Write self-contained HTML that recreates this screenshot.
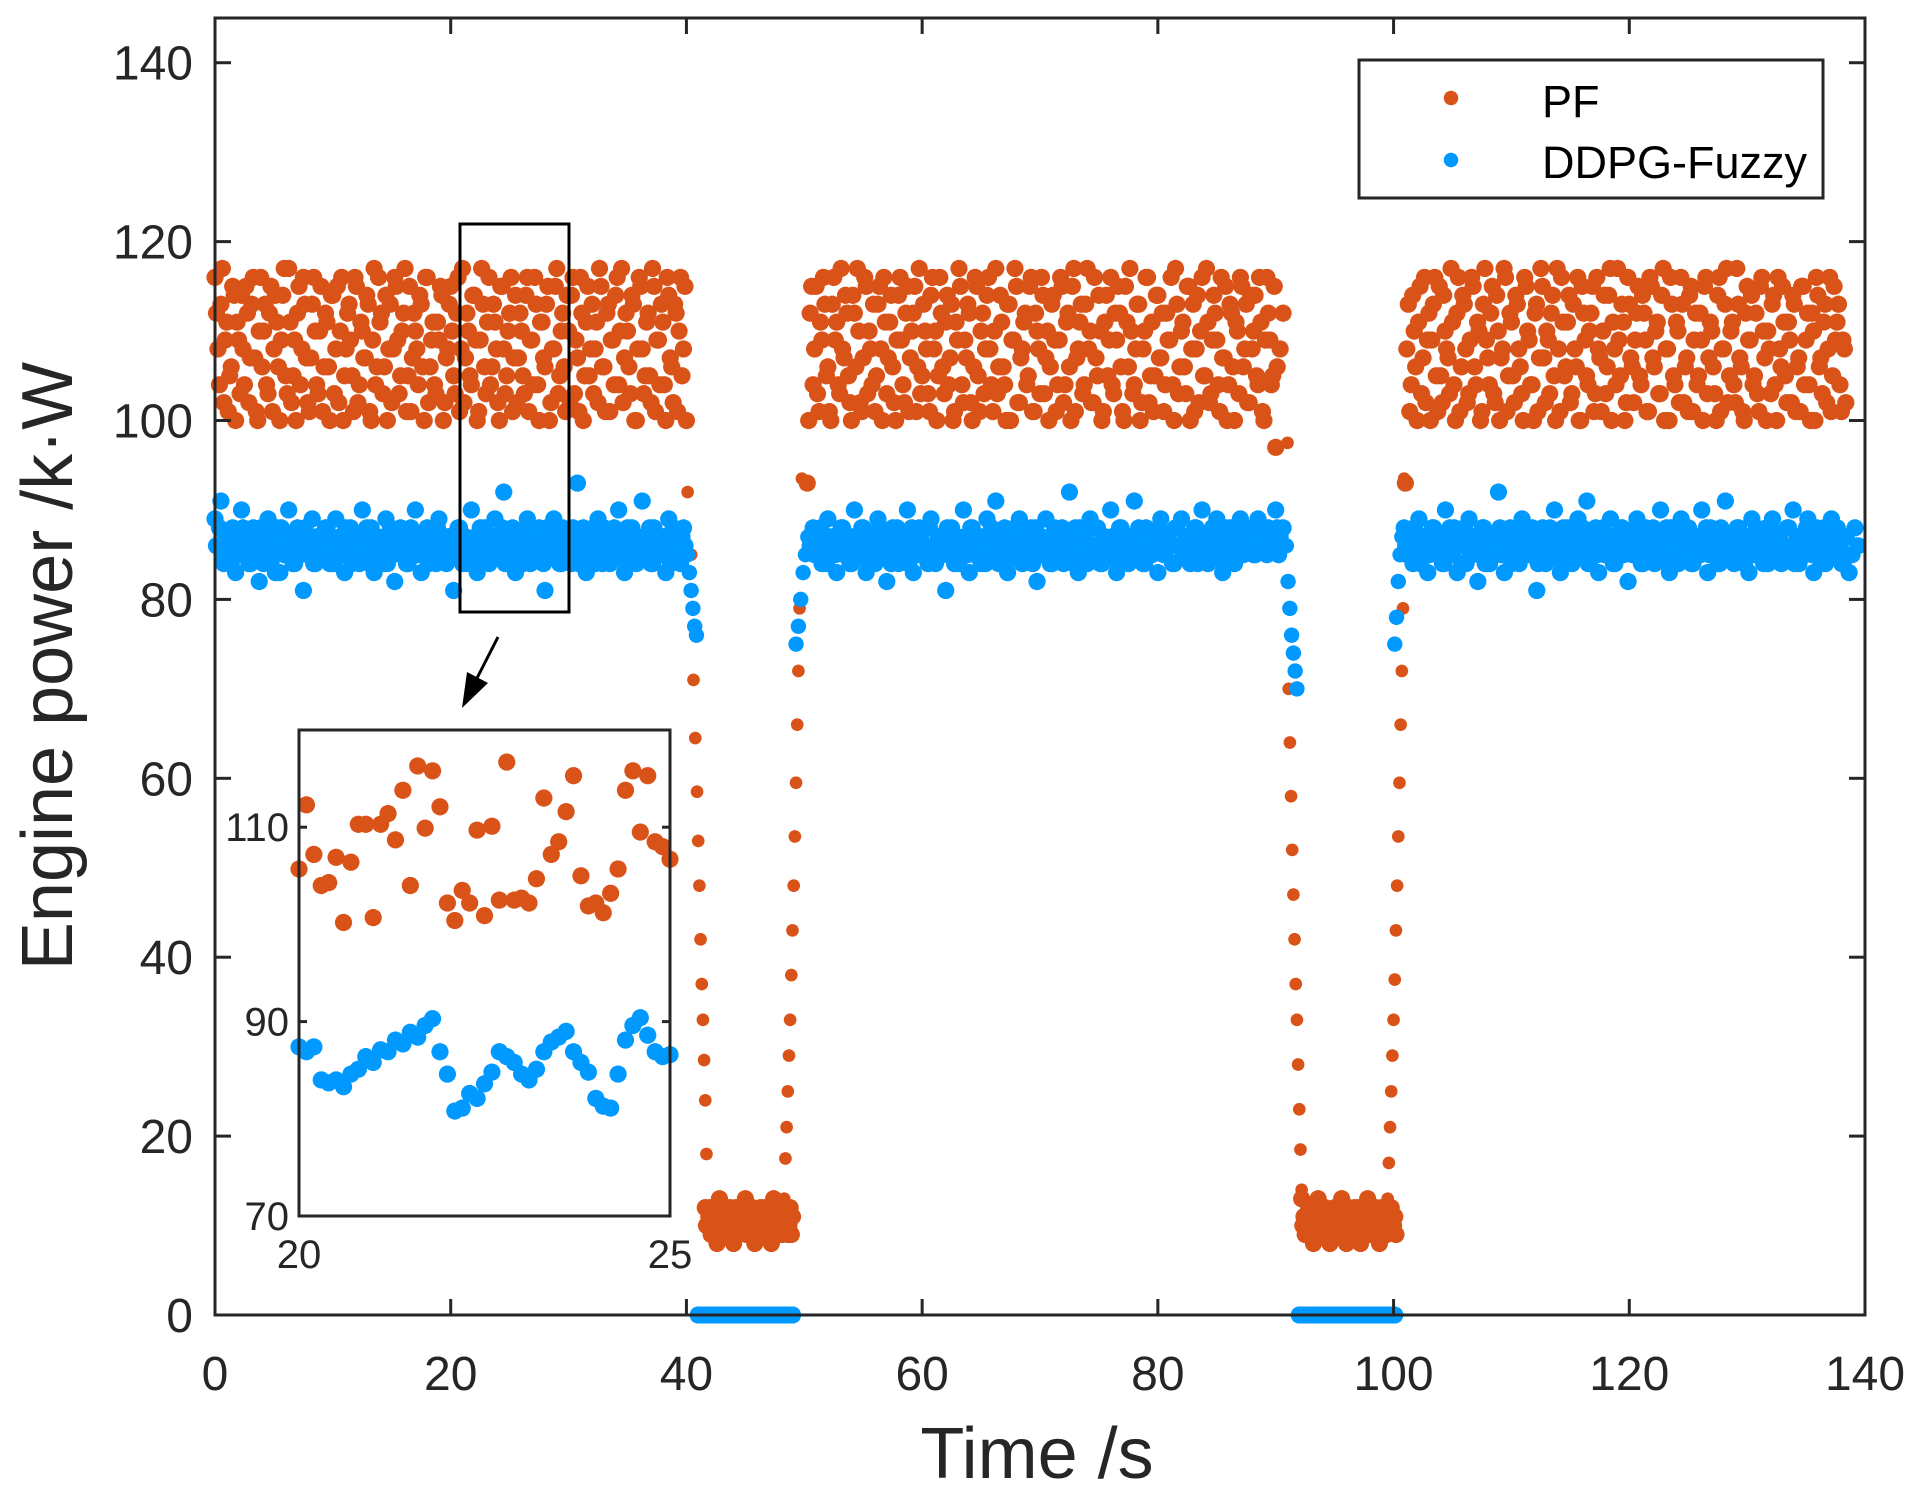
<!DOCTYPE html>
<html><head><meta charset="utf-8">
<style>
html,body{margin:0;padding:0;background:#fff;}
svg{display:block;font-family:"Liberation Sans",Arial,sans-serif;}
</style></head>
<body>
<svg id="chart" width="1915" height="1495" viewBox="0 0 1915 1495" xmlns="http://www.w3.org/2000/svg">
<defs>
<symbol id="ast" viewBox="-10 -10 20 20" overflow="visible">
<path d="M0,-9V9M-9,0H9M-6.4,-6.4L6.4,6.4M-6.4,6.4L6.4,-6.4M-3.4,-8.3L3.4,8.3M-3.4,8.3L3.4,-8.3M-8.3,-3.4L8.3,3.4M-8.3,3.4L8.3,-3.4" stroke-width="3.4" stroke-linecap="butt" fill="none"/>
<circle r="4.5" stroke="none" fill="currentColor"/>
</symbol>
</defs>
<rect x="0" y="0" width="1915" height="1495" fill="#fff"/>
<g id="mainMarks"></g>
<g id="axes"></g>
<g id="inset"></g>
<rect x="460" y="224" width="109" height="388" fill="none" stroke="#000" stroke-width="3"/>
<line x1="498" y1="637" x2="474" y2="684" stroke="#000" stroke-width="3"/>
<polygon points="462,708 467,672 488,683" fill="#000"/>
<g>
<rect x="1359" y="60" width="464" height="138" fill="#fff" stroke="#262626" stroke-width="3"/>
<use href="#ast" x="1443" y="90" width="16" height="16" stroke="#D95319" color="#D95319"/>
<text x="1542" y="117" font-size="45" fill="#000">PF</text>
<use href="#ast" x="1443" y="152" width="16" height="16" stroke="#0099FF" color="#0099FF"/>
<text x="1542" y="178" font-size="45" fill="#000">DDPG-Fuzzy</text>
</g>
<text x="1037" y="1478" font-size="72" text-anchor="middle" fill="#262626">Time /s</text>
<text transform="translate(72,666) rotate(-90)" font-size="72" text-anchor="middle" fill="#262626">Engine power /k·W</text>
</svg>
<script>
// ---- data ----
const xTicks = [0,20,40,60,80,100,120,140];
const yTicks = [0,20,40,60,80,100,120,140];
const insetXTicks = [20,25];
const insetYTicks = [70,90,110];
const steadyStep = 0.25;
const pfSegStarts = [0, 50.25, 101];
const pfSegStarts2 = [0.125, 50.375, 101.125];
const pfSegA = [116,108,113,102,111,105,115,100,109,114,104,112,107,116,101,110,106,113,103,115,108,111,100,114,105,117,102,109,112,104,116,107,101,113,110,103,115,106,111,100,
114,108,102,116,105,112,109,101,115,104,110,107,113,100,117,106,111,103,114,108,102,116,109,105,112,101,115,107,110,104,113,100,116,106,111,103,109,114,102,108,
115,105,112,101,117,107,110,104,114,100,109,113,103,116,106,111,102,115,108,105,112,101,114,107,110,103,116,109,104,113,100,111,106,115,102,108,117,105,112,101,
110,114,103,107,116,100,111,105,113,108,102,115,106,112,101,109,114,104,117,107,110,103,113,100,116,108,105,112,102,115,109,104,111,100,114,106,113,101,116,108,100];
const pfSegA2 = [112,104,117,109,101,106,114,111,103,108,115,102,113,107,100,116,110,104,112,101,114,106,109,117,103,111,105,100,115,108,113,102,107,116,104,110,101,112,106,114,
103,115,110,100,108,113,105,116,102,111,107,114,101,109,104,116,112,106,100,113,108,115,103,110,117,105,101,112,108,114,106,116,102,109,104,111,115,100,107,113,
110,103,116,108,102,112,105,114,109,101,117,106,111,104,113,108,100,115,103,110,116,107,102,112,105,114,101,109,116,104,111,107,113,100,108,115,103,110,106,114,
102,116,109,101,112,105,115,108,103,111,117,106,101,113,109,104,116,110,102,112,106,114,100,108,115,103,111,105,117,101,109,113,104,116,107,102,112,110,105,115];
const pfSegB = [93,112,104,115,101,109,113,106,100,116,111,103,108,114,105,100,112,117,102,107,115,110,104,101,113,108,116,103,111,106,100,114,109,102,115,107,112,101,117,105,
110,103,114,108,100,116,106,111,104,113,101,109,115,102,107,112,100,116,105,110,103,114,108,101,117,106,111,104,113,100,109,115,102,108,112,105,116,101,110,103,
114,107,100,113,109,104,116,102,111,106,115,101,108,113,104,117,110,102,107,114,100,111,105,116,103,109,112,101,115,106,110,104,113,100,108,116,102,111,105,114,
107,101,112,109,104,117,103,110,106,115,100,113,108,102,116,105,111,103,114,109,101,107,115,104,112,100,110,116,106,113,102,108,114,104,111,100,116,109,105,97];
const pfSegB2 = [100,115,108,103,111,116,105,101,113,109,104,117,107,112,102,114,106,110,101,116,103,108,113,105,115,100,111,107,114,102,109,116,104,112,101,110,115,106,103,113,
108,101,116,110,105,112,103,114,107,100,111,117,104,109,113,102,106,115,101,112,108,116,104,110,103,114,106,100,113,109,117,102,107,111,104,115,101,112,108,116,
103,110,106,114,101,109,115,104,112,100,117,107,111,103,113,108,102,116,105,110,101,114,109,104,112,115,106,100,111,117,103,108,113,102,110,116,105,101,114,107,
112,104,109,116,100,113,106,111,103,115,108,101,114,110,105,117,102,109,112,104,116,107,100,113,106,111,103,115,108,102,114,110,105,116,101,109,112,104,115,106,108,112];
const pfSegC = [93,113,104,110,100,115,107,102,112,109,116,101,105,114,108,103,111,100,116,106,113,102,109,115,104,110,101,117,107,112,103,114,100,108,116,105,111,102,113,106,
100,115,109,104,112,101,117,107,110,103,114,100,108,116,105,111,102,113,106,100,115,109,104,112,101,116,107,110,103,114,100,108,117,105,111,102,113,106,109,115,
104,112,101,116,107,110,103,114,100,108,116,105,111,102,113,106,101,115,109,104,112,100,116,107,110,103,114,101,108,117,105,111,102,113,106,100,115,109,104,112,
101,116,107,110,103,114,100,108,115,105,111,102,113,106,101,115,109,104,112,100,114,107,111,102,116,105,109,113,101,108];
const pfSegC2 = [108,101,114,106,111,103,116,109,100,113,105,115,102,110,107,117,104,112,101,114,108,103,116,106,111,100,113,109,104,115,102,110,107,117,101,112,105,114,108,103,
116,110,104,100,113,107,115,102,109,112,105,117,101,111,106,114,103,108,116,100,112,105,110,115,103,108,101,114,106,117,111,104,109,113,100,116,107,102,112,105,
114,109,101,115,106,111,103,117,108,100,113,104,110,116,102,107,114,101,112,105,109,115,103,111,106,100,116,108,113,102,110,104,117,107,101,112,109,114,105,103,
115,110,100,108,113,104,116,106,111,102,109,114,101,107,115,104,112,100,110,116,106,103,113,108,101,115,111,104,109,102];
const ddSegStarts = [0, 50.5, 100.9];
const ddSegStarts2 = [0.125, 50.625, 101.025];
const ddSegA = [89,86,91,84,87,85,88,83,86,90,85,87,84,88,86,82,87,85,89,84,86,88,83,87,85,90,86,84,88,85,81,87,86,89,84,86,87,85,88,84,
86,89,85,87,83,86,88,85,87,84,90,86,85,88,83,87,86,84,89,85,87,82,86,88,85,84,87,86,90,85,83,87,88,85,86,84,89,86,85,87,
85,81,86,88,84,87,85,90,86,83,88,85,87,84,86,89,85,87,92,84,86,88,83,87,85,86,89,84,87,85,88,86,81,87,85,89,86,84,88,85,
87,84,86,93,85,88,83,87,86,84,89,85,88,86,84,87,85,90,86,83,88,85,87,84,86,91,85,87,84,88,86,85,87,83,89,85,87,86,84,88];
const ddSegA2 = [86,88,85,87,86,84,87,86,85,88,86,84,87,85,86,88,84,86,87,85,83,86,88,85,87,86,84,86,85,87,88,85,86,84,87,86,85,88,86,87,
84,86,87,85,88,86,84,86,87,85,86,88,84,87,86,85,86,87,84,88,85,86,87,85,86,84,88,86,85,87,86,85,84,87,86,88,85,86,84,87,
86,85,88,86,87,84,86,85,87,86,84,88,86,85,87,85,86,88,84,86,87,85,86,87,84,88,86,85,86,87,85,84,88,86,85,87,86,84,87,86,
85,88,86,84,87,86,85,87,88,85,86,84,87,86,85,88,86,87,85,84,86,88,85,87,86,85,86,88,84,87,86,85,87,86,84,88,86,85,87,86];
const ddSegB = [86,88,85,87,84,86,89,85,87,83,86,88,85,87,84,90,86,85,88,83,87,86,84,89,85,87,82,86,88,85,84,87,86,90,85,83,87,88,85,86,
84,89,86,85,87,85,81,86,88,84,87,85,90,86,83,88,85,87,84,86,89,85,87,91,84,86,88,83,87,85,86,89,84,87,85,88,86,82,87,85,
89,86,84,88,85,87,84,86,92,85,88,83,87,86,84,89,85,88,86,84,87,85,90,86,83,88,85,87,84,86,91,85,87,84,88,86,85,87,83,89,
85,87,86,84,88,86,89,85,87,84,86,88,85,90,86,84,87,85,89,86,83,88,85,87,84,86,89,85,88,86,87,85,89,86,88,85,87,86,90,85];
const ddSegB2 = [87,85,86,88,86,84,87,86,85,87,88,85,86,84,87,86,85,88,86,84,87,85,86,88,85,86,87,84,86,88,85,87,86,84,88,86,85,87,86,85,
88,86,84,87,85,86,88,85,87,86,84,86,87,85,88,86,85,86,87,84,86,88,85,87,86,85,84,87,86,88,85,86,87,85,86,84,88,86,87,85,
86,84,87,86,85,88,86,85,87,84,86,88,85,87,86,85,86,88,84,87,86,85,87,86,84,88,86,85,87,86,85,88,86,84,87,85,86,87,88,86,
85,87,86,84,88,86,85,87,86,85,88,84,86,87,85,86,88,85,87,86,84,86,88,85,87,86,85,88,86,87,85,86,88,87,86,88,87,86,88,87,88];
const ddSegC = [88,85,87,84,86,89,85,87,83,86,88,85,87,84,90,86,85,88,83,87,86,84,89,85,87,82,86,88,85,84,87,86,92,85,83,87,88,85,86,84,
89,86,85,87,85,81,86,88,84,87,85,90,86,83,88,85,87,84,86,89,85,87,91,84,86,88,83,87,85,86,89,84,87,85,88,86,82,87,85,89,
86,84,88,85,87,84,86,90,85,88,83,87,86,84,89,85,88,86,84,87,85,90,86,83,88,85,87,84,86,91,85,87,84,88,86,85,87,83,89,85,
87,86,84,88,86,89,85,87,84,86,88,85,90,86,84,87,85,89,86,83,88,85,87,84,86,89,85,88,86,84,87,83,85,88,86];
const ddSegC2 = [86,87,85,88,86,84,87,86,85,88,86,85,87,84,86,88,85,87,86,84,88,86,85,87,86,85,88,84,86,87,85,86,88,85,87,86,84,86,88,85,
87,86,85,88,86,84,87,85,86,88,85,87,86,84,86,88,85,87,86,85,88,86,84,87,86,85,87,88,86,85,87,84,86,88,85,86,87,85,88,86,
84,87,86,85,88,86,85,87,86,84,88,86,85,87,86,85,88,84,86,87,85,86,88,85,87,86,84,88,86,85,87,86,85,88,86,84,87,85,86,88,
85,87,86,84,88,86,85,87,86,85,88,86,84,87,86,85,88,86,85,87,86,84,88,86,85,87,86,85,84,87];
const pfDropTimes1 = [40.1,40.4,40.6,40.75,40.9,41.0,41.1,41.2,41.3,41.4,41.5,41.6,41.7];
const pfDropVals1 = [92,85,71,64.5,58.5,53,48,42,37,33,28.5,24,18];
const pfRiseTimes1 = [48.3,48.4,48.5,48.6,48.7,48.8,48.9,49.0,49.1,49.2,49.3,49.4,49.5,49.6,49.8];
const pfRiseVals1 = [13,17.5,21,25,29,33,38,43,48,53.5,59.5,66,72,79,93.5];
const pfDropTimes2 = [91.0,91.1,91.2,91.3,91.4,91.5,91.6,91.7,91.8,91.9,92.0,92.1,92.2];
const pfDropVals2 = [97.5,70,64,58,52,47,42,37,33,28,23,18.5,14];
const pfRiseTimes2 = [99.5,99.6,99.7,99.8,99.9,100.0,100.1,100.2,100.3,100.4,100.5,100.6,100.7,100.8,100.9];
const pfRiseVals2 = [13,17,21,25,29,33,37.5,43,48,53.5,59.5,66,72,79,93.5];
const lowStarts = [41.6, 92.2];
const lowStep = 0.2;
const pfLow1 = [12,10,12,9,11,8,13,10,9,12,11,10,8,12,9,11,10,13,9,10,12,8,11,10,9,12,10,11,8,13,10,9,12,11,10,9,12,11];
const pfLow2 = [13,11,9,12,10,8,11,13,9,10,12,11,8,10,12,9,11,13,10,8,12,11,9,10,12,8,11,10,13,9,12,10,11,8,12,10,9,11,12,10,9];
const lowStarts2 = [41.7, 92.3];
const pfLow1b = [10,11,9,10,12,11,9,10,11,9,12,10,11,9,10,11,12,9,11,10,9,11,10,12,9,11,10,9,11,10,12,11,9,10,11,10,9];
const pfLow2b = [10,9,11,10,12,9,10,11,9,12,10,9,11,10,9,12,10,11,9,11,10,9,12,10,11,9,10,11,9,10,11,12,9,10,11,9,10,12,10,11];
const ddDropTimes1 = [40.1,40.25,40.4,40.55,40.7,40.85];
const ddDropVals1 = [85,83,81,79,77,76];
const ddRiseTimes1 = [49.3,49.5,49.7,49.9,50.1,50.3];
const ddRiseVals1 = [75,77,80,83,85,87];
const ddDropTimes2 = [90.9,91.05,91.2,91.35,91.5,91.65,91.8];
const ddDropVals2 = [86,82,79,76,74,72,70];
const ddRiseTimes2 = [100.1,100.25,100.4,100.55,100.7];
const ddRiseVals2 = [75,78,82,85,87];
const ddZeroStarts = [41.0, 92.0];
const ddZeroEnds = [49.0, 100.1];
const insetStep = 0.1;
const insetPF = [105.7,112.3,107.2,104.0,104.3,106.9,100.2,106.4,110.3,110.3,100.7,110.3,111.4,108.7,113.8,104.0,116.3,109.9,115.8,112.1,102.2,100.4,103.5,102.2,109.7,100.9,110.1,102.5,116.7,102.5,102.7,102.2,104.7,113.0,107.2,108.5,111.6,115.3,105.0,101.9,102.2,101.2,103.2,105.7,113.8,115.8,109.5,115.3,108.5,108.0,106.7];
const insetDD = [87.4,86.9,87.4,84.0,83.7,84.0,83.3,84.6,85.1,86.4,85.8,87.1,86.9,88.1,87.7,88.9,88.4,89.6,90.3,86.9,84.6,80.8,81.1,82.6,82.1,83.6,84.8,86.9,86.4,85.8,84.6,84.0,85.1,86.9,87.9,88.4,89.0,86.9,85.8,84.8,82.1,81.3,81.1,84.6,88.1,89.6,90.4,88.6,86.9,86.4,86.6];

// ---- scales ----
const X0=215, X1=1865, Y0=1315, YT=18;
const xMin=0,xMax=140,yMin=0,yMax=145;
function sx(t){return X0+(t-xMin)/(xMax-xMin)*(X1-X0);}
function sy(v){return Y0-(v-yMin)/(yMax-yMin)*(Y0-YT);}
const IX0=299, IX1=670, IY0=1216, IY1=730;
function ix(t){return IX0+(t-20)/(25-20)*(IX1-IX0);}
function iy(v){return IY0-(v-70)/(120-70)*(IY0-IY1);}
const NS='http://www.w3.org/2000/svg';
const PF_C='#D95319', DD_C='#0099FF';

function mark(parent,x,y,color,name,size){
  const u=document.createElementNS(NS,'use');
  u.setAttribute('href','#ast');
  const s=size||19;
  u.setAttribute('x',x-s/2);u.setAttribute('y',y-s/2);
  u.setAttribute('width',s);u.setAttribute('height',s);
  u.setAttribute('stroke',color);
  u.setAttribute('color',color);
  
  
  parent.appendChild(u);
}
function el(tag,attrs,parent){
  const e=document.createElementNS(NS,tag);
  for(const k in attrs)e.setAttribute(k,attrs[k]);
  parent.appendChild(e);return e;
}
const M=document.getElementById('mainMarks');
const gPF=el('g',{},M);


const gDD=el('g',{},M);



function drawSeg(g,start,step,vals,color,name,size){
  vals.forEach((v,i)=>mark(g,sx(start+i*step),sy(v),color,name,size));
}
function drawPairs(g,ts,vs,color,name,size){
  ts.forEach((t,i)=>mark(g,sx(t),sy(vs[i]),color,name,size));
}
ddZeroStarts.forEach((s,k)=>{
  for(let t=s;t<=ddZeroEnds[k]+1e-9;t+=0.1) mark(gDD,sx(t),sy(0),DD_C,'ddpg-point',19);
});
[pfSegA,pfSegB,pfSegC].forEach((seg,k)=>drawSeg(gPF,pfSegStarts[k],steadyStep,seg,PF_C,'pf-point',19));
[pfSegA2,pfSegB2,pfSegC2].forEach((seg,k)=>drawSeg(gPF,pfSegStarts2[k],steadyStep,seg,PF_C,'pf-point',19));
drawSeg(gPF,lowStarts[0],lowStep,pfLow1,PF_C,'pf-point',19);
drawSeg(gPF,lowStarts[1],lowStep,pfLow2,PF_C,'pf-point',19);
drawSeg(gPF,lowStarts2[0],lowStep,pfLow1b,PF_C,'pf-point',19);
drawSeg(gPF,lowStarts2[1],lowStep,pfLow2b,PF_C,'pf-point',19);
drawPairs(gPF,pfDropTimes1,pfDropVals1,PF_C,'pf-point',14);
drawPairs(gPF,pfRiseTimes1,pfRiseVals1,PF_C,'pf-point',14);
drawPairs(gPF,pfDropTimes2,pfDropVals2,PF_C,'pf-point',14);
drawPairs(gPF,pfRiseTimes2,pfRiseVals2,PF_C,'pf-point',14);
[ddSegA,ddSegB,ddSegC].forEach((seg,k)=>drawSeg(gDD,ddSegStarts[k],steadyStep,seg,DD_C,'ddpg-point',19));
[ddSegA2,ddSegB2,ddSegC2].forEach((seg,k)=>drawSeg(gDD,ddSegStarts2[k],steadyStep,seg,DD_C,'ddpg-point',19));
drawPairs(gDD,ddDropTimes1,ddDropVals1,DD_C,'ddpg-point',17);
drawPairs(gDD,ddRiseTimes1,ddRiseVals1,DD_C,'ddpg-point',17);
drawPairs(gDD,ddDropTimes2,ddDropVals2,DD_C,'ddpg-point',17);
drawPairs(gDD,ddRiseTimes2,ddRiseVals2,DD_C,'ddpg-point',17);

// ---- axes ----
const A=document.getElementById('axes');
const frame=el('rect',{x:X0,y:YT,width:X1-X0,height:Y0-YT,fill:'none',stroke:'#262626','stroke-width':3},A);


xTicks.forEach(t=>{
  const x=sx(t);
  el('line',{x1:x,y1:Y0,x2:x,y2:Y0-16,stroke:'#262626','stroke-width':3},A);
  el('line',{x1:x,y1:YT,x2:x,y2:YT+16,stroke:'#262626','stroke-width':3},A);
  const tx=el('text',{x:x,y:1390,'font-size':48,'text-anchor':'middle',fill:'#262626'},A);
  tx.textContent=t;
  
  
});
yTicks.forEach(v=>{
  const y=sy(v);
  el('line',{x1:X0,y1:y,x2:X0+16,y2:y,stroke:'#262626','stroke-width':3},A);
  el('line',{x1:X1,y1:y,x2:X1-16,y2:y,stroke:'#262626','stroke-width':3},A);
  const tx=el('text',{x:193,y:y+17,'font-size':48,'text-anchor':'end',fill:'#262626'},A);
  tx.textContent=v;
  
  
});

// ---- inset ----
const I=document.getElementById('inset');
const ibg=el('rect',{x:IX0,y:IY1,width:IX1-IX0,height:IY0-IY1,fill:'#fff',stroke:'none'},I);


const gi=el('g',{},I);


insetPF.forEach((v,i)=>mark(gi,ix(20+i*insetStep),iy(v),PF_C,'inset-pf-point',19));
insetDD.forEach((v,i)=>mark(gi,ix(20+i*insetStep),iy(v),DD_C,'inset-ddpg-point',19));
const iframe=el('rect',{x:IX0,y:IY1,width:IX1-IX0,height:IY0-IY1,fill:'none',stroke:'#262626','stroke-width':3},I);


insetYTicks.forEach(v=>{
  const y=iy(v);
  el('line',{x1:IX0,y1:y,x2:IX0+8,y2:y,stroke:'#262626','stroke-width':3},I);
  el('line',{x1:IX1,y1:y,x2:IX1-8,y2:y,stroke:'#262626','stroke-width':3},I);
  const tx=el('text',{x:IX0-10,y:y+14,'font-size':40,'text-anchor':'end',fill:'#262626'},I);
  tx.textContent=v;
  
  
});
insetXTicks.forEach(t=>{
  const tx=el('text',{x:ix(t),y:1268,'font-size':40,'text-anchor':'middle',fill:'#262626'},I);
  tx.textContent=t;
  
  
});
</script>
</body></html>
